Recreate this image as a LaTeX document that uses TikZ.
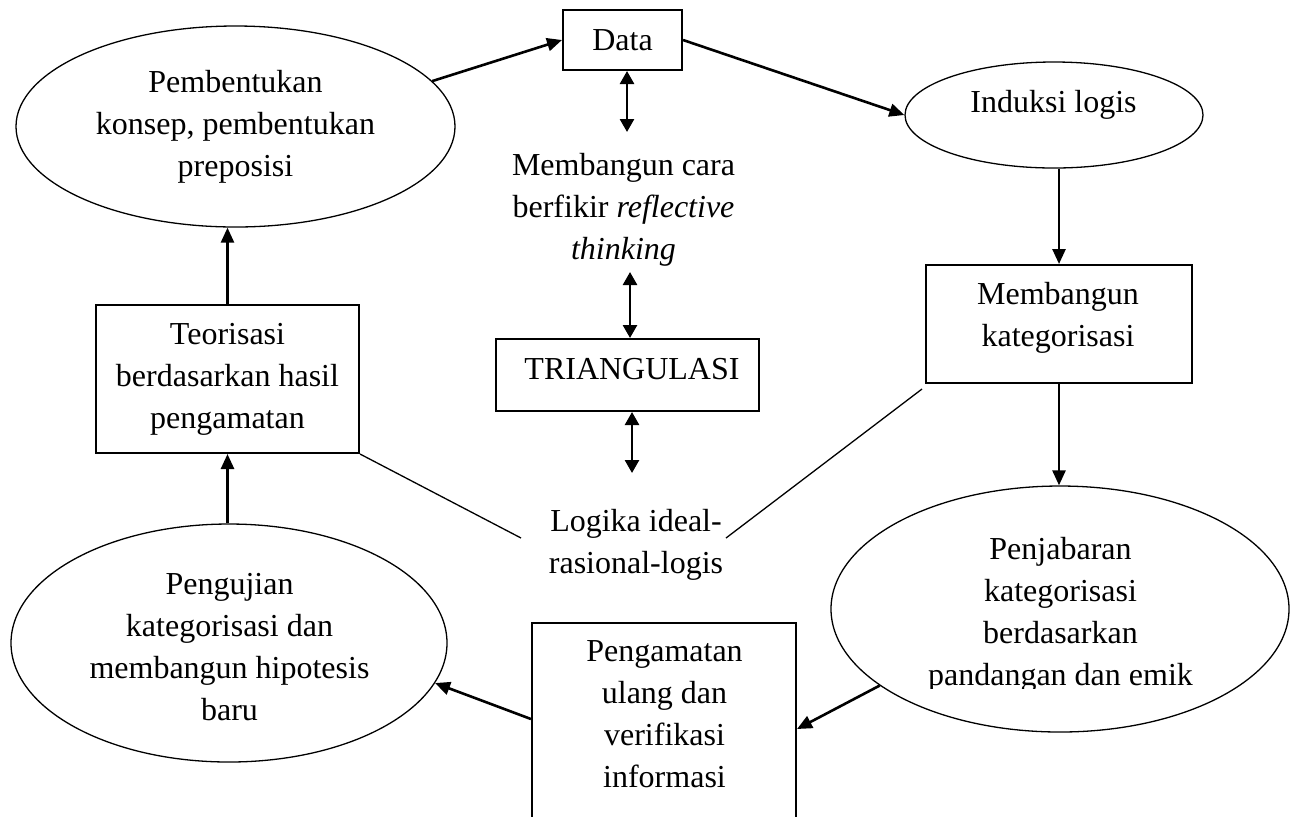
\documentclass[tikz,border=0pt]{standalone}
\usepackage{fontspec}
\setmainfont{Liberation Serif}
\usetikzlibrary{shapes.geometric,arrows.meta,calc}
\begin{document}
\begin{tikzpicture}[x=0.5pt,y=-0.5pt,
  every node/.style={font=\fontsize{16}{21}\selectfont, align=center},
  ell/.style={draw, ellipse, line width=0.65pt, inner sep=0pt},
  rbox/.style={draw, rectangle, line width=1pt, inner sep=0pt},
  txt/.style={inner sep=0pt},
  arr/.style={line width=1.3pt, -{Triangle[length=7.5pt,width=6.5pt]}},
  darr/.style={line width=1.3pt, {Triangle[length=6.5pt,width=7pt]}-{Triangle[length=6.5pt,width=7pt]}},
  fine/.style={line width=0.65pt}]
\useasboundingbox (0,0) rectangle (1299,816);

% shapes
\node[ell, minimum width=219.5pt, minimum height=100.5pt] (e1) at (235.5,126.5) {Pembentukan\\konsep, pembentukan\\preposisi};
\node[rbox, minimum width=59.5pt, minimum height=30pt] (data) at (622.5,40) {Data};
\node[ell, minimum width=149pt, minimum height=53pt] (ind) at (1054,115) {};
\node[txt] (indt) at (1053.5,105) {Induksi logis};
\node[txt] (refl) at (623.5,209.5) {Membangun cara\\berfikir \textit{reflective}\\\textit{thinking}};
\node[rbox, minimum width=131.5pt, minimum height=36pt] (tri) at (627.5,375) {};
\node[txt] (trit) at (632,369.5) {TRIANGULASI};
\node[rbox, minimum width=133pt, minimum height=59pt] (mem) at (1059,324) {};
\node[txt] (memt) at (1058,318) {Membangun\\kategorisasi};
\node[rbox, minimum width=131.5pt, minimum height=74pt] (teo) at (227.5,379) {Teorisasi\\berdasarkan hasil\\pengamatan};
\node[txt] (log) at (636,545) {Logika ideal-\\rasional-logis};
\node[ell, minimum width=229pt, minimum height=123pt] (pen) at (1060,609) {};
\begin{scope}
  \clip (0,0) rectangle (1299,688);
  \node[txt] (pent) at (1060.5,615) {Penjabaran\\kategorisasi\\berdasarkan\\pandangan dan emik};
\end{scope}
\node[ell, minimum width=218pt, minimum height=119pt] (peng) at (229,643) {};
\node[txt] (pengt) at (229.5,647.5) {Pengujian\\kategorisasi dan\\membangun hipotesis\\baru};
\node[rbox, minimum width=132pt, minimum height=128.5pt] (pbox) at (664,751.5) {};
\node[txt] (pbt) at (664.5,714.5) {Pengamatan\\ulang dan\\verifikasi\\informasi};

% helper coordinates
\coordinate (d1) at (627,132);
\coordinate (t1) at (630,272);
\coordinate (t2) at (632,473);
\coordinate (l1) at (521,538);
\coordinate (l2) at (726,538);

% connectors
\draw[arr] (e1.13) -- (data.west);
\draw[arr] (data.east) -- (ind.west);
\draw[darr] (data.south -| d1) -- (d1);
\draw[darr] (t1) -- (t1 |- tri.north);
\draw[darr] (tri.south -| t2) -- (t2);
\draw[arr] (mem.north |- ind.south) -- (mem.north);
\draw[arr] (mem.south) -- (mem.south |- pen.north);
\draw[arr] (pen.203) -- ($(pbox.north east)+(0,107)$);
\draw[arr] ($(pbox.north west)+(0,97)$) -- (peng.-11);
\draw[arr] (peng.north -| teo.south) -- (teo.south);
\draw[arr] (teo.north) -- (teo.north |- e1.south);
\draw[fine] (teo.south east) -- (l1);
\draw[fine] ($(mem.south west)+(-3,5)$) -- (l2);
\end{tikzpicture}
\end{document}
